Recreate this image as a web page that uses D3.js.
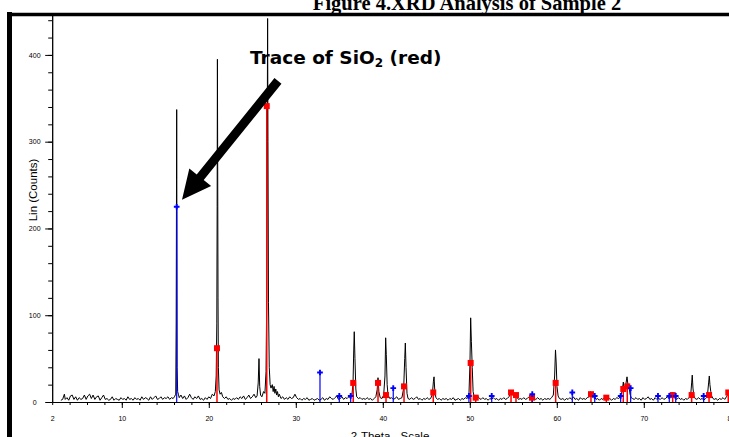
<!DOCTYPE html>
<html>
<head>
<meta charset="utf-8">
<script src="https://cdn.jsdelivr.net/npm/d3@7"></script>
<style>
  body { margin: 0; background: #fff; }
  svg { display: block; }
</style>
</head>
<body>
<div id="chart"></div>
<script>
// measured scan: [2-theta, counts]
const scan = [
  [3.0,2],[3.2,3],[3.4,9],[3.5,3],[3.7,5],[3.9,2],[4.1,7],[4.3,8],[4.5,3],[4.7,6],[4.9,2],[5.1,5],[5.3,3],
  [5.5,4],[5.7,8],[5.9,3],[6.1,7],[6.3,9],[6.5,4],[6.7,8],[6.9,3],[7.1,6],[7.3,7],[7.5,2],[7.7,5],[7.9,8],
  [8.1,3],[8.3,4],[8.5,2],[8.7,3],[8.9,6],[9.1,2],[9.3,4],[9.5,3],[9.7,2],[9.9,5],[10.1,3],[10.3,4],[10.5,2],
  [10.7,6],[10.9,3],[11.1,4],[11.3,2],[11.5,5],[11.7,3],[11.9,4],[12.1,2],[12.3,6],[12.5,3],[12.7,5],[12.9,4],
  [13.1,2],[13.3,6],[13.5,3],[13.7,5],[13.9,7],[14.1,3],[14.3,4],[14.5,6],[14.7,3],[14.9,5],[15.1,4],[15.3,6],
  [15.5,3],[15.7,5],[15.9,4],[16.05,6],[16.2,9],
  [16.25,91],[16.27,168],[16.29,256],[16.31,337],[16.33,225],[16.36,40],[16.42,12],[16.5,9],[16.6,5],
  [16.8,8],[17.0,4],[17.2,7],[17.4,3],[17.6,5],[17.8,9],[18.0,5],[18.2,3],[18.4,6],[18.6,4],[18.8,7],[19.0,3],
  [19.2,4],[19.4,2],[19.6,5],[19.8,3],[20.0,6],[20.2,4],[20.4,9],[20.6,7],[20.75,12],[20.85,30],[20.92,90],
  [20.96,225],[20.99,395],[21.02,280],[21.06,120],[21.1,40],[21.18,14],[21.3,9],[21.45,11],[21.6,6],[21.8,4],
  [22.0,6],[22.2,3],[22.4,4],[22.6,2],[22.8,4],[23.0,3],[23.2,5],[23.4,3],[23.6,6],[23.8,4],[24.0,7],[24.2,3],
  [24.4,5],[24.6,8],[24.8,4],[25.0,6],[25.2,9],[25.4,5],[25.55,7],[25.68,22],[25.77,50],[25.85,18],[25.95,8],
  [26.1,6],[26.3,12],[26.45,10],[26.58,35],[26.66,120],[26.72,317],[26.76,442],[26.8,300],[26.86,115],
  [26.95,40],[27.05,20],[27.15,16],[27.3,20],[27.4,12],[27.5,18],[27.6,10],[27.7,15],[27.8,8],[27.9,12],
  [28.0,6],[28.1,9],[28.3,4],[28.5,6],[28.7,3],[28.9,5],[29.1,3],[29.3,6],[29.5,4],[29.7,5],[29.9,9],[30.1,5],
  [30.3,3],[30.5,4],[30.7,2],[30.9,4],[31.1,3],[31.3,5],[31.5,2],[31.7,3],[31.9,4],[32.1,2],[32.3,3],[32.5,4],
  [32.7,2],[32.9,3],[33.1,5],[33.3,2],[33.5,4],[33.7,3],[33.9,6],[34.1,4],[34.3,3],[34.5,5],[34.7,7],[34.9,3],
  [35.1,4],[35.3,6],[35.5,3],[35.7,5],[35.9,4],[36.1,6],[36.3,5],[36.45,8],[36.58,22],[36.66,60],[36.72,81],
  [36.8,50],[36.9,15],[37.0,6],[37.2,4],[37.4,5],[37.6,3],[37.8,4],[38.0,3],[38.2,5],[38.4,3],[38.6,4],
  [38.8,2],[39.0,4],[39.2,6],[39.35,14],[39.45,28],[39.55,12],[39.7,5],[39.9,4],[40.1,8],[40.25,30],
  [40.33,74],[40.4,55],[40.5,20],[40.6,8],[40.8,4],[41.0,5],[41.2,3],[41.4,4],[41.6,6],[41.8,3],[42.0,4],
  [42.2,5],[42.4,16],[42.52,50],[42.59,68],[42.67,40],[42.78,10],[42.9,4],[43.1,3],[43.3,5],[43.5,3],
  [43.7,4],[43.9,6],[44.1,3],[44.3,4],[44.5,2],[44.7,4],[44.9,3],[45.1,5],[45.3,3],[45.5,4],[45.7,9],
  [45.82,24],[45.89,29],[45.97,14],[46.1,5],[46.3,3],[46.5,4],[46.7,2],[46.9,4],[47.1,3],[47.3,4],[47.5,2],
  [47.7,4],[47.9,3],[48.1,5],[48.3,2],[48.5,3],[48.7,4],[48.9,2],[49.1,4],[49.3,3],[49.5,5],[49.7,4],
  [49.9,8],[50.02,45],[50.1,97],[50.18,70],[50.28,40],[50.38,12],[50.5,6],[50.7,4],[50.9,7],[51.1,4],
  [51.3,3],[51.5,5],[51.7,3],[51.9,4],[52.1,2],[52.3,4],[52.5,3],[52.7,5],[52.9,3],[53.1,4],[53.3,2],
  [53.5,4],[53.7,3],[53.9,5],[54.1,3],[54.3,4],[54.5,6],[54.7,10],[54.82,13],[54.95,8],[55.1,6],[55.3,9],
  [55.45,5],[55.6,3],[55.8,4],[56.0,3],[56.2,5],[56.4,3],[56.6,4],[56.8,6],[57.0,5],[57.2,8],[57.4,4],
  [57.6,3],[57.8,5],[58.0,3],[58.2,4],[58.4,2],[58.6,4],[58.8,3],[59.0,4],[59.2,3],[59.4,5],[59.6,8],
  [59.75,30],[59.85,60],[59.93,45],[60.02,18],[60.15,7],[60.3,4],[60.5,3],[60.7,4],[60.9,2],[61.1,4],
  [61.3,3],[61.5,5],[61.7,3],[61.9,6],[62.1,3],[62.3,4],[62.5,2],[62.7,5],[62.9,3],[63.1,4],[63.3,3],
  [63.5,5],[63.7,6],[63.88,12],[64.0,8],[64.15,5],[64.3,7],[64.5,3],[64.7,4],[64.9,2],[65.1,4],[65.3,3],
  [65.5,5],[65.7,6],[65.9,3],[66.1,4],[66.3,2],[66.5,4],[66.7,3],[66.9,5],[67.1,4],[67.3,6],[67.5,12],
  [67.65,23],[67.75,14],[67.9,18],[68.07,29],[68.18,20],[68.3,18],[68.42,9],[68.55,5],[68.7,4],[68.9,3],
  [69.1,5],[69.3,3],[69.5,4],[69.7,2],[69.9,5],[70.1,3],[70.3,4],[70.5,6],[70.7,3],[70.9,4],[71.1,2],
  [71.3,5],[71.5,3],[71.7,4],[71.9,3],[72.1,5],[72.3,3],[72.5,4],[72.7,6],[72.9,4],[73.1,9],[73.3,11],
  [73.45,6],[73.6,4],[73.8,3],[74.0,5],[74.2,3],[74.4,4],[74.6,2],[74.8,4],[75.0,3],[75.2,5],[75.4,9],
  [75.5,22],[75.57,31],[75.65,16],[75.75,7],[75.9,4],[76.1,3],[76.3,5],[76.5,3],[76.7,4],[76.9,2],[77.1,4],
  [77.3,6],[77.45,22],[77.53,30],[77.6,20],[77.7,12],[77.8,7],[77.95,4],[78.1,3],[78.3,4],[78.5,2],
  [78.7,4],[78.9,3],[79.1,5],[79.3,3],[79.5,6],[79.7,10],[79.8,6],[80.0,3]
];

// SiO2 reference lines (red squares): [2-theta, counts]
const quartzLines = [
  [20.94,62],[26.66,341],[36.6,22],[39.45,22],[40.37,8],[42.44,18],[45.8,11],[50.1,45],[50.68,5],
  [54.74,11],[55.31,8],[57.15,5],[59.87,22],[63.93,9],[65.69,5],[67.64,15],[68.1,18],[73.32,8],
  [75.5,8],[77.5,8],[79.71,11]
];

// second phase reference lines (blue markers)
const otherLines = [
  [16.31,225],[32.78,34],[35.0,7],[36.31,7],[41.2,16],[49.9,7],[52.52,7],[57.18,9],[61.78,11],
  [64.36,7],[67.34,7],[68.49,16],[71.63,7],[72.93,7],[73.67,7],[76.88,7]
];

const xMajorTicks = [2, 10, 20, 30, 40, 50, 60, 70, 80];
const yMajorTicks = [0, 100, 200, 300, 400];

const width = 729, height = 437;

const svg = d3.select("#chart").append("svg")
    .attr("width", width)
    .attr("height", height);

const x = d3.scaleLinear().domain([2, 80]).range([52.2, 730.8]);
const y = d3.scaleLinear().domain([0, 446]).range([402, 15]);

// page frame (thick black border of the scanned figure)
svg.append("line")
    .attr("x1", 9.5).attr("x2", 9.5).attr("y1", 12).attr("y2", height)
    .attr("stroke", "#000").attr("stroke-width", 5);
svg.append("line")
    .attr("x1", 7).attr("x2", width).attr("y1", 14.5).attr("y2", 14.5)
    .attr("stroke", "#000").attr("stroke-width", 3.5);

// figure title, cut off by the top edge
svg.append("text")
    .attr("x", 467)
    .attr("y", 10)
    .attr("text-anchor", "middle")
    .style("font-family", "'Liberation Serif', 'Times New Roman', serif")
    .style("font-weight", "bold")
    .style("font-size", "20.5px")
    .text("Figure 4.XRD Analysis of Sample 2");

// axes
const axisFont = "'Liberation Sans', Arial, sans-serif";

const xMinor = svg.append("g")
    .attr("transform", `translate(0,${y(0)})`)
    .call(d3.axisBottom(x).tickValues(d3.range(2, 81, 2)).tickSize(3).tickFormat("").tickSizeOuter(0));

const xMajor = svg.append("g")
    .attr("transform", `translate(0,${y(0)})`)
    .call(d3.axisBottom(x).tickValues(xMajorTicks).tickSize(6).tickPadding(8).tickSizeOuter(0));

const yMinor = svg.append("g")
    .attr("transform", `translate(${x(2)},0)`)
    .call(d3.axisLeft(y).tickValues(d3.range(0, 441, 20)).tickSize(4).tickFormat("").tickSizeOuter(0));

const yMajor = svg.append("g")
    .attr("transform", `translate(${x(2)},0)`)
    .call(d3.axisLeft(y).tickValues(yMajorTicks).tickSize(7).tickSizeOuter(0));

svg.selectAll(".domain").attr("stroke", "#000");
svg.selectAll(".tick line").attr("stroke", "#000");
xMajor.selectAll("text")
    .style("font-family", axisFont).style("font-size", "7px").attr("fill", "#000");
yMajor.selectAll("text")
    .attr("x", -17.5)
    .attr("text-anchor", "middle")
    .style("font-family", axisFont).style("font-size", "7px").attr("fill", "#000");
xMajor.select(".tick line").remove(); // no tick at the origin

// axis titles
svg.append("text")
    .attr("transform", `translate(37,190) rotate(-90)`)
    .attr("text-anchor", "middle")
    .style("font-family", axisFont)
    .style("font-size", "11.5px")
    .text("Lin (Counts)");

svg.append("text")
    .attr("x", 390)
    .attr("y", 440)
    .attr("text-anchor", "middle")
    .style("font-family", axisFont)
    .style("font-size", "11.5px")
    .text("2-Theta - Scale");

// diffraction pattern
const line = d3.line()
    .x(d => x(d[0]))
    .y(d => y(d[1]));

svg.append("path")
    .datum(scan)
    .attr("fill", "none")
    .attr("stroke", "#000")
    .attr("stroke-width", 1)
    .attr("d", line);

// reference sticks
svg.selectAll(".stick-q")
    .data(quartzLines)
  .join("line")
    .attr("class", "stick-q")
    .attr("x1", d => x(d[0])).attr("x2", d => x(d[0]))
    .attr("y1", y(0)).attr("y2", d => y(d[1]))
    .attr("stroke", "#ff0000")
    .attr("stroke-width", 1.5);

svg.selectAll(".stick-o")
    .data(otherLines)
  .join("line")
    .attr("class", "stick-o")
    .attr("x1", d => x(d[0])).attr("x2", d => x(d[0]))
    .attr("y1", y(0)).attr("y2", d => y(d[1]))
    .attr("stroke", "#0000ff")
    .attr("stroke-width", 1.2);

svg.selectAll(".mark-q")
    .data(quartzLines)
  .join("rect")
    .attr("class", "mark-q")
    .attr("x", d => x(d[0]) - 3)
    .attr("y", d => y(d[1]) - 3)
    .attr("width", 6).attr("height", 6)
    .attr("fill", "#ff0000");

svg.selectAll(".mark-o")
    .data(otherLines)
  .join("path")
    .attr("class", "mark-o")
    .attr("transform", d => `translate(${x(d[0])},${y(d[1])})`)
    .attr("d", d3.symbol().type(d3.symbolCross).size(18))
    .attr("fill", "#0000ff");

// annotation
const note = svg.append("text")
    .attr("x", 250)
    .attr("y", 64)
    .style("font-family", "'DejaVu Sans', Verdana, sans-serif")
    .style("font-weight", "bold")
    .style("font-size", "18.5px");
note.append("tspan").text("Trace of SiO");
note.append("tspan").attr("dy", 3).style("font-size", "12px").text("2");
note.append("tspan").attr("dy", -3).text(" (red)");

// arrow pointing to the 16.3 deg peak
const tail = [x(27.95), y(370)], tip = [x(16.92), y(233)];
const dx = tip[0] - tail[0], dy = tip[1] - tail[1];
const len = Math.hypot(dx, dy);
const ux = dx / len, uy = dy / len, px = -uy, py = ux;
const headLen = 29, headHalf = 14, shaftHalf = 4.5;
const bx = tip[0] - ux * headLen, by = tip[1] - uy * headLen;
const arrowPts = [
  [tail[0] + px * shaftHalf, tail[1] + py * shaftHalf],
  [bx + px * shaftHalf, by + py * shaftHalf],
  [bx + px * headHalf, by + py * headHalf],
  tip,
  [bx - px * headHalf, by - py * headHalf],
  [bx - px * shaftHalf, by - py * shaftHalf],
  [tail[0] - px * shaftHalf, tail[1] - py * shaftHalf]
];
svg.append("polygon")
    .attr("points", arrowPts.map(p => p.join(",")).join(" "))
    .attr("fill", "#000");
</script>
</body>
</html>
